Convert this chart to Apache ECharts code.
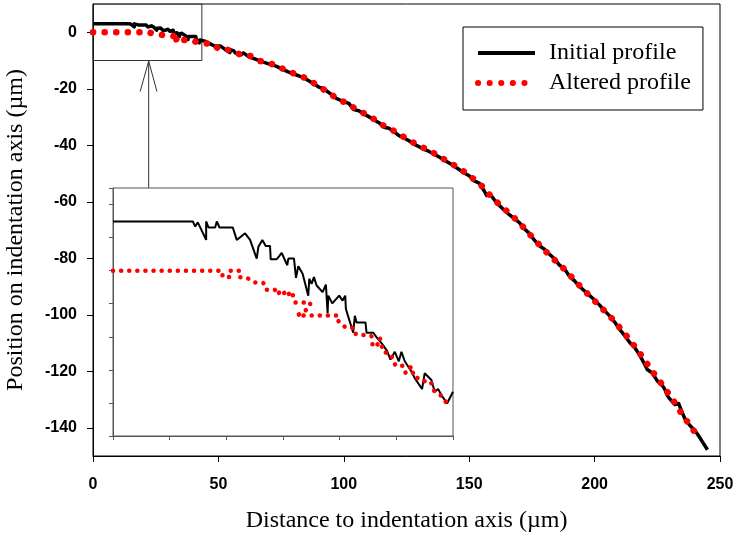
<!DOCTYPE html>
<html><head><meta charset="utf-8">
<script src="https://cdn.jsdelivr.net/npm/echarts@6/dist/echarts.min.js"></script>
<style>html,body{margin:0;padding:0;background:#fff}#c{width:736px;height:533px}</style>
</head><body><div id="c"></div><script>
// ---- data (µm) ----
const initialDetail = [[0,2.98],[14.09,2.98],[14.5,2.67],[14.97,2.92],[16.44,1.86],[16.44,2.98],[16.85,2.61],[18.02,2.61],[18.32,2.98],[18.79,2.61],[21.14,2.61],[21.84,1.86],[23.31,2.26],[24.19,1.86],[25.36,0.73],[25.66,1.45],[26.36,1.86],[26.95,1.49],[27.71,1.49],[27.83,0.69],[28.89,0.69],[29.77,1.08],[30.35,0.63],[30.76,0.33],[30.94,0.73],[31.94,0.73],[32.29,-0.43],[32.7,0.27],[33.46,-0.18],[34.46,-1.51],[34.64,-0.49],[35.05,-0.8],[35.46,-0.39],[35.93,-0.9],[36.99,-1.3],[37.57,-0.84],[37.87,-2.57],[37.99,-1.51],[38.69,-1.98],[39.92,-1.51],[40.51,-1.81],[40.98,-1.51],[41.1,-2.32],[42.39,-3.75],[42.68,-2.73],[42.98,-3.14],[44.56,-3.14],[44.74,-3.75],[45.91,-3.75],[46.5,-4.02],[47.56,-4.46],[48.38,-4.87],[48.96,-5.38],[49.73,-4.91],[50.43,-5.48],[50.9,-4.91],[51.49,-5.48],[52.66,-6.1],[53.25,-6.5],[54.54,-7.16],[55.01,-6.2],[56.19,-6.61],[56.77,-7.32],[57.36,-7.16],[57.95,-7.52],[58.95,-8.03],[60,-7.32]];
const initialRest = [[62,-8.6],[65,-9.6],[68,-10.6],[70,-11.2],[73,-12.0],[76,-13.3],[79,-14.5],[82,-15.4],[85,-16.6],[88,-18.2],[90,-19.4],[92,-20.0],[95,-22.0],[97,-23.4],[100,-24.6],[102,-25.2],[104,-27.4],[106,-27.8],[108,-28.9],[111,-30.4],[114,-32.0],[116,-33.6],[118,-34.0],[120,-35.2],[122,-36.6],[124,-37.4],[126,-38.4],[128,-39.6],[131,-41.0],[134,-42.2],[137,-43.6],[140,-45.2],[143,-46.8],[146,-48.6],[148,-49.8],[150,-50.8],[152,-52.6],[154,-53.4],[156,-56.2],[157,-57.8],[158,-57.0],[161,-60.4],[164,-63.0],[166,-64.6],[168,-66.0],[170,-67.4],[172,-69.6],[174,-71.2],[176,-73.6],[178,-75.6],[180,-76.8],[182,-78.6],[184,-80.2],[186,-82.4],[188,-83.8],[190,-86.4],[192,-88.0],[194,-90.0],[196,-91.6],[198,-93.2],[200,-94.8],[202,-96.6],[204,-98.6],[206,-100.4],[208,-102.6],[210,-105.2],[212,-107.4],[214,-109.8],[216,-111.6],[218,-114.4],[220,-117.6],[221,-119.4],[223,-120.6],[225,-123.4],[227,-125.0],[228,-126.4],[229,-128.6],[230,-129.8],[232,-131.8],[233.5,-131.4],[235,-134.8],[236,-136.8],[238,-139.2],[240,-141.0],[241,-142.2],[243,-145.0],[245,-147.8]];
const alteredDetail = [[0,0],[19.2,0],[19.37,-0.39],[20.78,-0.39],[20.78,0],[22.31,0],[22.31,-0.39],[23.6,-0.43],[25.07,-0.71],[26.54,-0.75],[27.01,-1.16],[28.59,-1.16],[28.89,-1.45],[29.94,-1.16],[30.53,-1.57],[31.53,-1.24],[32.11,-1.92],[34.87,-1.94],[34.46,-2.3],[32.53,-2.71],[39.75,-2.71],[39.75,-3.04],[41.1,-3.45],[42.51,-3.45],[42.86,-3.85],[44.15,-3.89],[45.62,-3.96],[45.79,-4.46],[46.5,-4.63],[47.09,-4.06],[47.67,-4.91],[48.96,-5.04],[49.43,-5.38],[49.85,-5.75],[51.19,-5.75],[51.66,-6.2],[52.66,-5.79],[53.13,-6.46],[54.54,-6.54],[55.6,-6.87],[56.19,-6.81],[56.66,-7.26],[57.65,-7.46],[58.95,-8.03]];
const alteredRest = [[62.7,-8.4],[66.7,-10.2],[70.6,-11.0],[74.6,-12.5],[78.6,-14.1],[82.6,-15.4],[86.6,-17.0],[89.2,-18.8],[91.9,-20.2],[95.9,-22.6],[99.9,-24.6],[103.8,-26.6],[107.8,-28.6],[111.8,-30.6],[115.8,-33.0],[119.8,-34.8],[123.8,-37.0],[127.8,-39.1],[131.7,-40.9],[135.7,-42.7],[139.7,-44.8],[143.7,-46.9],[147.7,-49.2],[151,-51.4],[155,-54.4],[159,-58.4],[163,-61.8],[167,-64.8],[171,-68.4],[175,-72.4],[179,-76.2],[183,-79.8],[187,-83.0],[191,-86.8],[195,-90.6],[199,-94.2],[203,-97.8],[207,-101.4],[211,-105.6],[215,-110.0],[219,-114.8],[223,-120.0],[227,-124.8],[231,-129.8],[235,-135.4],[239,-140.4],[242,-144.0]];
const xTicks = [0,50,100,150,200,250];
const yTicks = [-140,-120,-100,-80,-60,-40,-20,0];
const seriesNames = ['Initial profile','Altered profile'];
// zoom box and arrow (annotation, in data units of main axes)
const zoomBoxX = [0, 43.4];
const zoomBoxY = [-10, 10];
const arrowShaft = [[22.2,-10.2],[22.2,-55.2]];
const arrowHead = [[18.8,-21],[22.2,-10.2],[25.5,-21]];

const initialAll = initialDetail.concat(initialRest);
const alteredAll = alteredDetail.concat(alteredRest);
const zoomBox = [[zoomBoxX[0],zoomBoxY[1]],[zoomBoxX[1],zoomBoxY[1]],[zoomBoxX[1],zoomBoxY[0]],[zoomBoxX[0],zoomBoxY[0]],[zoomBoxX[0],zoomBoxY[1]]];

const chart = echarts.init(document.getElementById('c'), null, {renderer:'canvas'});
const labelFont = {fontFamily:'Liberation Sans, Arial, sans-serif', fontWeight:'bold', fontSize:16, color:'#000'};
const serif = 'Liberation Serif, Times New Roman, serif';
const annot = {type:'line', xAxisIndex:0, yAxisIndex:0, symbol:'none', silent:true, z:1, lineStyle:{color:'#333', width:1}};
chart.setOption({
  animation:false,
  backgroundColor:'#fff',
  grid:[
    {left:93, top:4, width:627, height:452, show:true, borderColor:'#000', borderWidth:1, backgroundColor:'transparent', outerBoundsMode:'none', containLabel:false},
    {left:113, top:188, width:340, height:248, show:true, borderColor:'#555', borderWidth:1, backgroundColor:'#fff', z:5, outerBoundsMode:'none', containLabel:false}
  ],
  legend:{
    orient:'vertical', left:463, top:27, padding:[14,12,15,12], itemGap:6,
    itemWidth:57, itemHeight:14, borderColor:'#000', borderWidth:1, selectedMode:false,
    itemStyle:{opacity:0},
    textStyle:{fontFamily:serif, fontSize:24, lineHeight:24, color:'#000', padding:[0,0,0,9]},
    data:[{name:seriesNames[0], lineStyle:{width:4}}, {name:seriesNames[1], lineStyle:{width:6}}]
  },
  xAxis:[
    {gridIndex:0, type:'value', min:0, max:250, interval:50,
     axisLine:{show:true, onZero:false, lineStyle:{color:'#000', width:1}},
     axisTick:{show:true, length:6, lineStyle:{color:'#000'}},
     axisLabel:Object.assign({margin:21, customValues:xTicks}, labelFont),
     splitLine:{show:false},
     name:'Distance to indentation axis (µm)', nameLocation:'middle', nameGap:53,
     nameTextStyle:{fontFamily:serif, fontSize:24, lineHeight:24, color:'#000'}},
    {gridIndex:1, type:'value', min:0, max:60, interval:10, z:6,
     axisLine:{show:true, onZero:false, lineStyle:{color:'#555', width:1}},
     axisTick:{show:true, length:4, lineStyle:{color:'#555'}},
     axisLabel:{show:false}, splitLine:{show:false}}
  ],
  yAxis:[
    {gridIndex:0, type:'value', min:-150, max:10,
     axisLine:{show:true, onZero:false, lineStyle:{color:'#000', width:1}},
     axisTick:{show:true, length:6, lineStyle:{color:'#000'}, customValues:yTicks},
     axisLabel:Object.assign({margin:16, customValues:yTicks}, labelFont),
     splitLine:{show:false},
     name:'Position on indentation axis (µm)', nameLocation:'middle', nameGap:65, nameRotate:90,
     nameTextStyle:{fontFamily:serif, fontSize:24, lineHeight:24, color:'#000'}},
    {gridIndex:1, type:'value', min:-10, max:5, interval:2, z:6,
     axisLine:{show:true, onZero:false, lineStyle:{color:'#555', width:1}},
     axisTick:{show:true, length:4, lineStyle:{color:'#555'}},
     axisLabel:{show:false}, splitLine:{show:false}}
  ],
  series:[
    Object.assign({}, annot, {name:'box', data:zoomBox}),
    Object.assign({}, annot, {name:'arrow', data:arrowShaft}),
    Object.assign({}, annot, {name:'arrowhead', data:arrowHead}),
    {name:seriesNames[0], type:'line', xAxisIndex:0, yAxisIndex:0, data:initialAll, symbol:'none', z:3,
     lineStyle:{color:'#000', width:3.5, join:'round'}},
    {name:seriesNames[1], type:'line', xAxisIndex:0, yAxisIndex:0, data:alteredAll, symbol:'none', z:4,
     itemStyle:{color:'#ff0000'},
     lineStyle:{color:'#ff0000', width:6.5, type:[0.1,11.5], cap:'round'}},
    {name:seriesNames[0], type:'line', xAxisIndex:1, yAxisIndex:1, data:initialDetail, symbol:'none', z:7,
     lineStyle:{color:'#000', width:2}},
    {name:seriesNames[1], type:'line', xAxisIndex:1, yAxisIndex:1, data:alteredDetail, symbol:'none', z:8,
     itemStyle:{color:'#ff0000'},
     lineStyle:{color:'#ff0000', width:4.5, type:[0.1,8], cap:'round'}}
  ]
});
</script></body></html>
